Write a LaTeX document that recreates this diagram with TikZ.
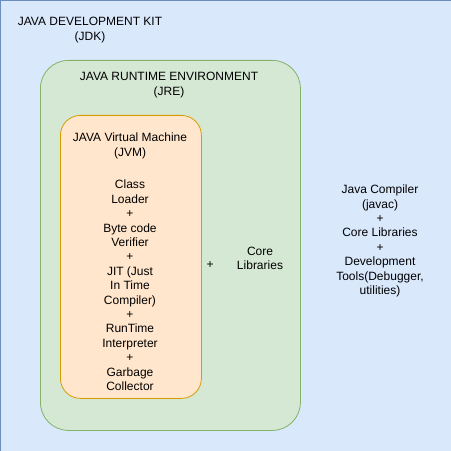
\documentclass[tikz,border=0pt]{standalone}
\usepackage{fontspec}
\setmainfont{Liberation Sans}
\definecolor{jdkfill}{HTML}{DAE8FC}
\definecolor{jdkline}{HTML}{6C8EBF}
\definecolor{jrefill}{HTML}{D5E8D4}
\definecolor{jreline}{HTML}{82B366}
\definecolor{jvmfill}{HTML}{FFE6CC}
\definecolor{jvmline}{HTML}{D79B00}
\begin{document}
\begin{tikzpicture}[x=1bp, y=-1bp,
        every node/.style={font=\fontsize{12bp}{14.4bp}\selectfont, align=center, inner sep=0pt},
        box/.style={draw, line width=0.8bp, anchor=north west}]
        \useasboundingbox (0,0) rectangle (451,451);
        \node[box, fill=jdkfill, draw=jdkline, minimum width=450bp, minimum height=450bp] (jdk) at (0.5,0.5) {};
        \node[box, fill=jrefill, draw=jreline, rounded corners=28bp, minimum width=260bp, minimum height=370bp] (jre) at (40,60) {};
        \node[box, fill=jvmfill, draw=jvmline, rounded corners=20bp, minimum width=141bp, minimum height=283bp] (jvm) at (60,115) {};
        \node (jdktitle) at (90,30) {JAVA DEVELOPMENT KIT\\(JDK)};
        \node (jretitle) at (169,85) {JAVA RUNTIME ENVIRONMENT\\(JRE)};
        \node (jvmtitle) at (130,146) {JAVA Virtual Machine\\(JVM)};
        \node (parts) at (130,285.5) {Class\\Loader\\+\\Byte code\\Verifier\\+\\JIT (Just\\In Time\\Compiler)\\+\\RunTime\\Interpreter\\+\\Garbage\\Collector};
        \node (plus) at (210,265) {+};
        \node (corelib) at (260,258.5) {Core\\Libraries};
        \node (tools) at (380,241) {Java Compiler\\(javac)\\+\\Core Libraries\\+\\Development\\Tools(Debugger,\\utilities)};
\end{tikzpicture}
\end{document}
